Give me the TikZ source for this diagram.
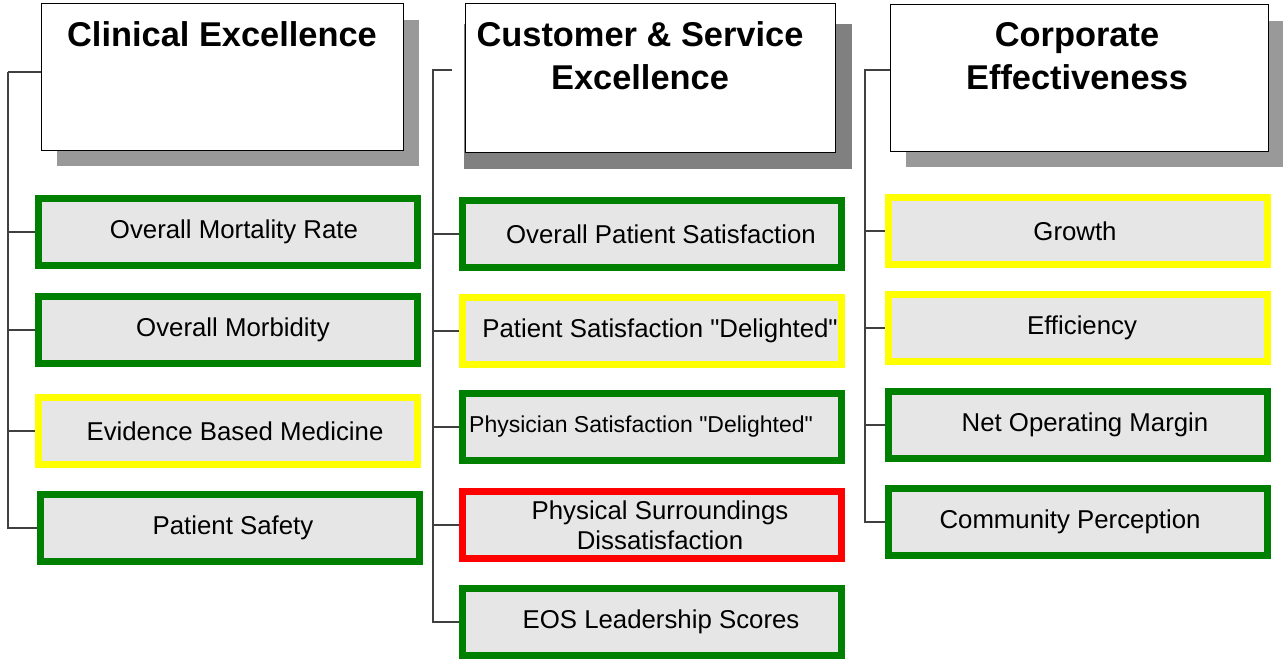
\documentclass[tikz,border=0pt]{standalone}
\usepackage{fontspec}
\setmainfont{Liberation Sans}
\usepackage{tikz}
\usepackage{xcolor}
\definecolor{kpigreen}{HTML}{008000}
\definecolor{kpiyellow}{HTML}{FFFF00}
\definecolor{kpired}{HTML}{FF0000}
\definecolor{kpifill}{HTML}{E6E6E6}
\tikzset{
	header/.style = {shape=rectangle, draw, fill=white, line width=0.5pt, inner sep=0pt},
	title/.style  = {align=center, inner sep=0pt, anchor=base,
		font=\fontsize{17.2}{21.5}\selectfont\bfseries},
	kpi/.style    = {shape=rectangle, fill=kpifill, line width=3.5pt, inner sep=0pt,
		align=center, minimum width=189.5pt, minimum height=33.5pt,
		font=\fontsize{12.9}{15}\selectfont},
	good/.style   = {kpi, draw=kpigreen},
	watch/.style  = {kpi, draw=kpiyellow},
	bad/.style    = {kpi, draw=kpired},
	nudge/.style  = {execute at begin node={\hspace*{#1}}},
	link/.style   = {draw=black!75, line width=0.6pt}
}

\begin{document}
\begin{tikzpicture}
[
x = 0.5pt,
y = -0.5pt
]
\useasboundingbox (0,0) rectangle (1283,658);

% header boxes with their shadows
\fill[black!40] (57,20) rectangle (419,166);
\fill[black!50] (464,24) rectangle (852,169);
\fill[black!40] (906,21) rectangle (1283,167);
\node [header, minimum width=181pt, minimum height=73pt] (hdA) at (222,77) {};
\node [header, minimum width=185pt, minimum height=74pt] (hdB) at (650,78) {};
\node [header, minimum width=189pt, minimum height=73pt] (hdC) at (1079,78) {};
% base sits on the last line
\node [title] (tA) at (222,47) {Clinical Excellence};
\node [title] (tB) at (640,90) {Customer \& Service\\Excellence};
\node [title] (tC) at (1077,90) {Corporate\\Effectiveness};

% clinical
\node [good, nudge=6pt]  (mort) at (228,232) {Overall Mortality Rate};
\node [good, nudge=5pt]  (morb) at (228,330) {Overall Morbidity};
\node [watch, nudge=7pt] (ebm)  at (228,431) {Evidence Based Medicine};
\node [good, nudge=3pt]  (safe) at (230,528) {Patient Safety};

% customer and service
\node [good, nudge=9pt]  (psat) at (652,234) {Overall Patient Satisfaction};
\node [watch, nudge=8pt] (pdel) at (652,331) {Patient Satisfaction \textquotedbl Delighted\textquotedbl};
\node [good, nudge=-11pt, font=\fontsize{11.5}{14}\selectfont] (mdel) at (652,427) {Physician Satisfaction \textquotedbl Delighted\textquotedbl};
\node [bad, nudge=8pt]   (surr) at (652,525) {Physical Surroundings\\Dissatisfaction};
\node [good, nudge=9pt]  (eos)  at (652,622) {EOS Leadership Scores};

% corporate
\node [watch, nudge=-3pt] (grow) at (1078,231) {Growth};
\node [watch, nudge=4pt]  (effi) at (1078,328) {Efficiency};
\node [good, nudge=7pt]   (marg) at (1078,425) {Net Operating Margin};
\node [good, nudge=-8pt]  (comm) at (1078,522) {Community Perception};

% tree lines
\coordinate (spA) at (8,72);
\coordinate (spB) at (433,70);
\coordinate (endB) at (452,70);
\coordinate (spC) at (865,70);
\draw[link] (spA) -- (spA -| hdA.west);
\draw[link] (spA) |- (safe.west);
\foreach \n in {mort,morb,ebm}
	\draw[link] (spA |- \n.west) -- (\n.west);
\draw[link] (endB) -- (spB) |- (eos.west);
\foreach \n in {psat,pdel,mdel,surr}
	\draw[link] (spB |- \n.west) -- (\n.west);
\draw[link] (spC -| hdC.west) -- (spC) |- (comm.west);
\foreach \n in {grow,effi,marg}
	\draw[link] (spC |- \n.west) -- (\n.west);
\end{tikzpicture}
\end{document}
